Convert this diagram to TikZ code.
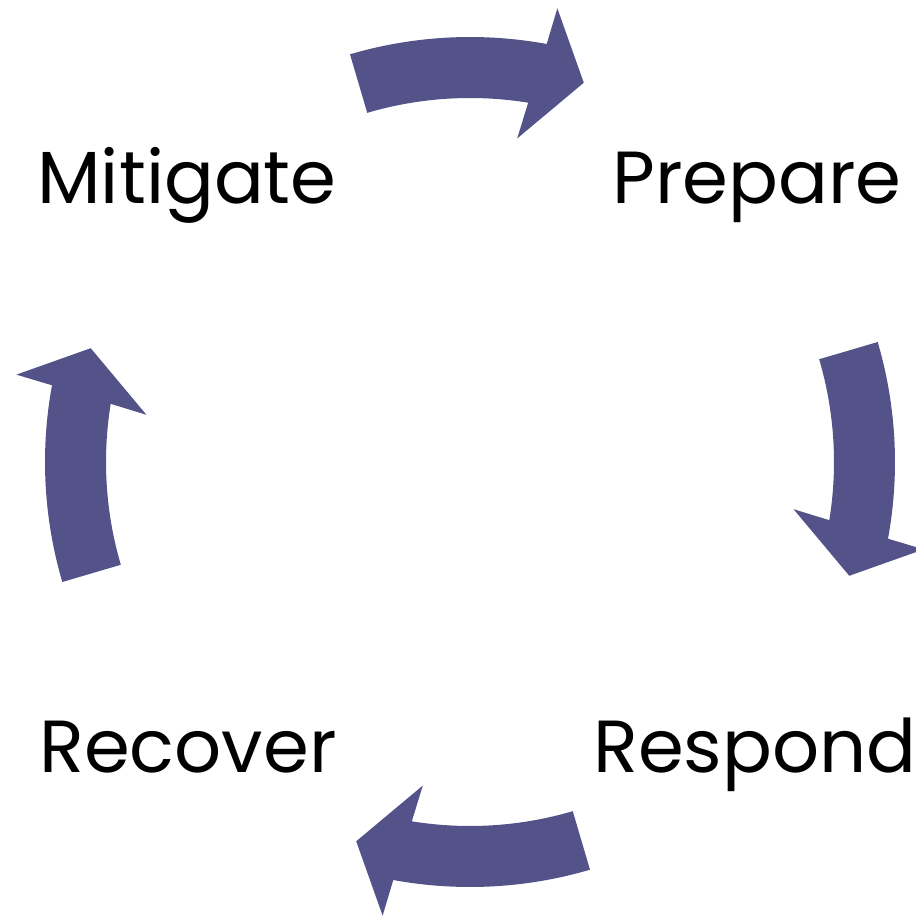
\documentclass[tikz,border=0pt]{standalone}
\usepackage{fontspec}
\setmainfont{Poppins}
\definecolor{cyclearrow}{RGB}{83,83,137}

\begin{document}
\begin{tikzpicture}
 [x=0.02cm,y=0.02cm,
   phase/.style={anchor=base,inner sep=0pt,font=\fontsize{42}{48}\selectfont},
   bigarrow/.style={fill=cyclearrow,draw=none}]
  \useasboundingbox (-470,-458) rectangle (446,462);
  % the four phases
  \node[phase] (mitigate) at (-283,258) {Mitigate};
  \node[phase] (prepare) at (287,258) {Prepare};
  \node[phase] (respond) at (285,-310) {Respond};
  \node[phase] (recover) at (-282,-310) {Recover};
  % curved arrows, one per quarter
  \foreach \rot in {0,-90,-180,-270}
    \fill[bigarrow,rotate=\rot]
      (106.4:425) arc[start angle=106.4,end angle=79.6,radius=425]
      -- (79.1:462) -- (73.3:396) -- (81.7:327) -- (80.8:364)
      arc[start angle=80.8,end angle=106.4,radius=364] -- cycle;
\end{tikzpicture}
\end{document}
